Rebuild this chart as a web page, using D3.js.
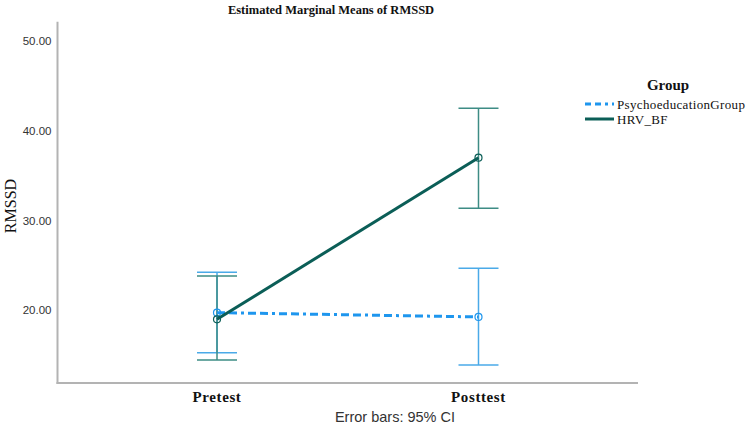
<!DOCTYPE html>
<html><head><meta charset="utf-8">
<script src="https://cdn.jsdelivr.net/npm/d3@7"></script>
<style>body{margin:0;background:#fff}</style>
</head><body>
<svg id="c" width="749" height="435"></svg>
<script>
const categories = ["Pretest", "Posttest"];
const groups = ["PsychoeducationGroup", "HRV_BF"];
const psychoMeans = [19.76, 19.28];
const psychoLower = [15.31, 13.94];
const psychoUpper = [24.24, 24.69];
const hrvMeans = [19.02, 36.98];
const hrvLower = [14.50, 31.36];
const hrvUpper = [23.83, 42.47];
const yTicks = [20, 30, 40, 50];

(function () {
const series = [
  {name: groups[0], means: psychoMeans, lo: psychoLower, hi: psychoUpper,
   line: "#1e96ee", bar: "#4aaae8", dash: "8,4,8,4,3,4", width: 3},
  {name: groups[1], means: hrvMeans, lo: hrvLower, hi: hrvUpper,
   line: "#0b5e57", bar: "#3d8c85", dash: null, width: 3}
];

const svg = d3.select("#c");
const pLeft = 57.5, pRight = 638, pTop = 21.7, pBottom = 383;
const x = d3.scalePoint().domain(categories).range([pLeft, pRight]).padding(0.61);
const y = d3.scaleLinear().domain([11.94, 52.09]).range([pBottom, pTop]);

const serif = "Liberation Serif, Times New Roman, serif";
const axisColor = "#b3b3b3";
svg.append("line").attr("x1", pLeft).attr("x2", pLeft).attr("y1", pTop).attr("y2", pBottom + 1)
  .attr("stroke", axisColor).attr("stroke-width", 2);
svg.append("line").attr("x1", pLeft - 1).attr("x2", pRight).attr("y1", pBottom).attr("y2", pBottom)
  .attr("stroke", axisColor).attr("stroke-width", 2);

svg.append("g").selectAll("text").data(yTicks).join("text")
  .attr("x", pLeft - 6).attr("y", d => y(d)).attr("dy", "0.35em")
  .attr("text-anchor", "end").attr("font-family", "Liberation Sans, Arial, sans-serif")
  .attr("font-size", 11.5).attr("fill", "#333").text(d => d.toFixed(2));

svg.append("g").selectAll("text").data(categories).join("text")
  .attr("x", d => x(d)).attr("y", 397).attr("dy", "0.35em")
  .attr("text-anchor", "middle").attr("font-family", serif)
  .attr("font-weight", "bold").attr("font-size", 15).attr("letter-spacing", 0.6)
  .attr("fill", "#111").text(d => d);

svg.append("text").attr("x", 331).attr("y", 10).attr("dy", "0.35em").attr("text-anchor", "middle")
  .attr("font-family", serif).attr("font-weight", "bold")
  .attr("font-size", 12.5).attr("fill", "#111").text("Estimated Marginal Means of RMSSD");

svg.append("text").attr("transform", "translate(10,206) rotate(-90)").attr("dy", "0.35em")
  .attr("text-anchor", "middle").attr("font-family", serif)
  .attr("font-size", 16).attr("fill", "#111").text("RMSSD");

svg.append("text").attr("x", 395).attr("y", 417).attr("dy", "0.35em").attr("text-anchor", "middle")
  .attr("font-family", "Liberation Sans, Arial, sans-serif").attr("font-size", 14.5)
  .attr("fill", "#333").text("Error bars: 95% CI");

const capW = 20;
series.forEach(s => {
  const g = svg.append("g");
  categories.forEach((c, i) => {
    const cx = x(c);
    g.append("line").attr("x1", cx).attr("x2", cx).attr("y1", y(s.lo[i])).attr("y2", y(s.hi[i]))
      .attr("stroke", s.bar).attr("stroke-width", 1.5);
    [s.lo[i], s.hi[i]].forEach(v => {
      g.append("line").attr("x1", cx - capW).attr("x2", cx + capW).attr("y1", y(v)).attr("y2", y(v))
        .attr("stroke", s.bar).attr("stroke-width", 1.5);
    });
  });
});

const lineGen = d3.line().x((d, i) => x(categories[i])).y(d => y(d));
series.forEach(s => {
  svg.append("path").datum(s.means).attr("d", lineGen).attr("fill", "none")
    .attr("stroke", s.line).attr("stroke-width", s.width)
    .attr("stroke-dasharray", s.dash);
  svg.append("g").selectAll("circle").data(s.means).join("circle")
    .attr("cx", (d, i) => x(categories[i])).attr("cy", d => y(d)).attr("r", 3.5)
    .attr("fill", "none").attr("stroke", s.line).attr("stroke-width", 1.2);
});

const lg = svg.append("g");
lg.append("text").attr("x", 668).attr("y", 85).attr("dy", "0.35em").attr("text-anchor", "middle")
  .attr("font-family", serif).attr("font-weight", "bold")
  .attr("font-size", 15).attr("fill", "#111").text("Group");
series.forEach((s, i) => {
  const yy = 104 + i * 15;
  lg.append("line").attr("x1", 585).attr("x2", 614).attr("y1", yy).attr("y2", yy)
    .attr("stroke", s.line).attr("stroke-width", 3).attr("stroke-dasharray", s.dash ? "6,4,6,4,3,4" : null);
  lg.append("text").attr("x", 617).attr("y", yy).attr("dy", "0.35em")
    .attr("font-family", serif).attr("font-size", 13).attr("letter-spacing", 0.35)
    .attr("fill", "#111").text(s.name);
});
})();
</script>
</body></html>
